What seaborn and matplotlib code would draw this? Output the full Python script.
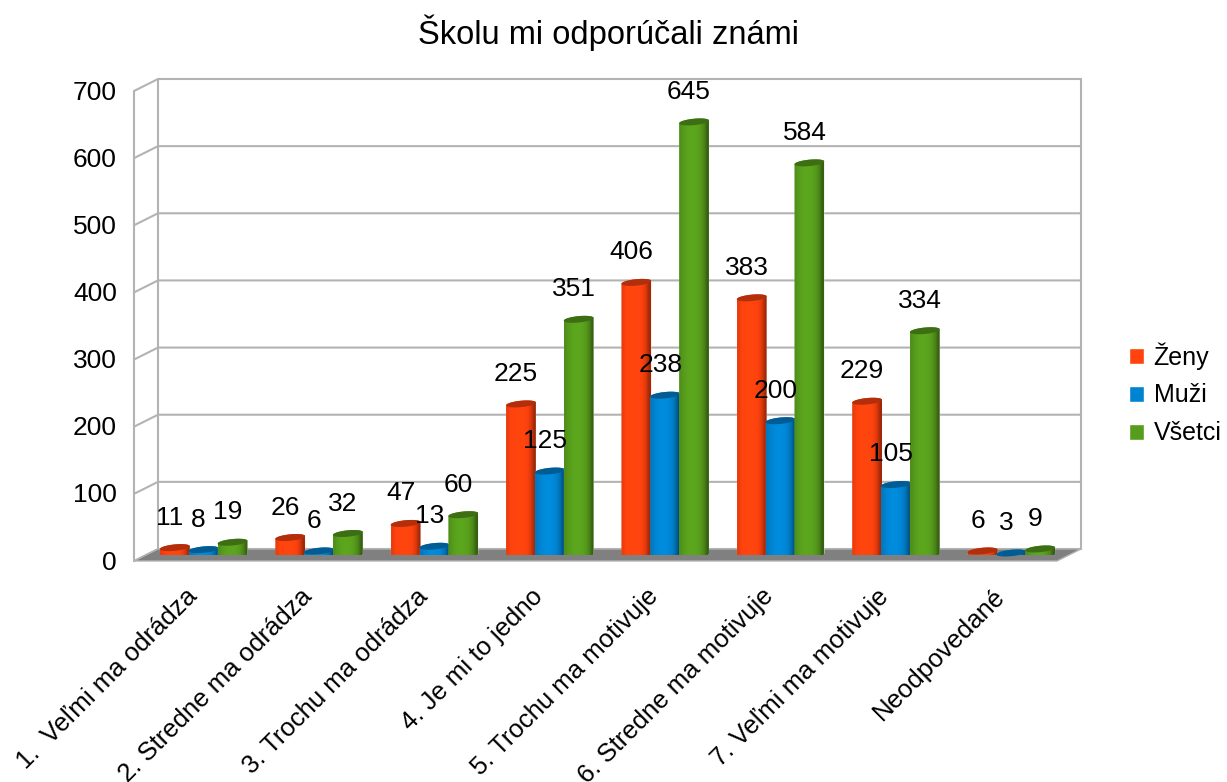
import numpy as np
import pandas as pd
import seaborn as sns
import matplotlib.pyplot as plt
from matplotlib.patches import Polygon
from matplotlib.transforms import ScaledTranslation

kategorie = ["1.  Veľmi ma odrádza", "2. Stredne ma odrádza", "3. Trochu ma odrádza", "4. Je mi to jedno",
             "5. Trochu ma motivuje", "6. Stredne ma motivuje", "7. Veľmi ma motivuje", "Neodpovedané"]
zeny = [11, 26, 47, 225, 406, 383, 229, 6]
muzi = [8, 6, 13, 125, 238, 200, 105, 3]
vsetci = [19, 32, 60, 351, 645, 584, 334, 9]
y_ticks = [0, 100, 200, 300, 400, 500, 600, 700]
farby = {"Ženy": "#ff420e", "Muži": "#0084d1", "Všetci": "#579d1c"}

W, H = 1227, 782
sns.set_theme(style="white")
plt.rcParams["font.family"] = ["Liberation Sans", "DejaVu Sans"]

df = pd.DataFrame({"kategoria": kategorie, "Ženy": zeny, "Muži": muzi, "Všetci": vsetci})
df = df.melt(id_vars="kategoria", var_name="skupina", value_name="pocet")

fig = plt.figure(figsize=(W / 100, H / 100), dpi=100)
ax = fig.add_axes([146 / W, 1 - 555 / H, 923 / W, 470 / H])
sns.barplot(data=df, x="kategoria", y="pocet", hue="skupina", palette=farby, width=0.75, gap=0,
            saturation=1, ax=ax, zorder=3)
ax.set_xlim(-0.5, 7.5)
ax.set_ylim(0, 700)
sns.despine(ax=ax, left=True, bottom=True)
ax.set_xlabel("")
ax.set_ylabel("")

# pixel sizes in data units
px_x = 8 / 923
px_y = 700 / 470
dx = 12 * px_x
dy = 6 * px_y

# floor and walls of the fake 3d box
x0, x1 = -0.5, 7.5
seda = "#b3b3b3"
ax.add_patch(Polygon([(x0 - dx, -dy), (x1 - dx, -dy), (x1 + dx, dy), (x0 + dx, dy)], closed=True,
                     fc="#808080", ec=seda, lw=1, clip_on=False, zorder=1))
for t in y_ticks:
    ax.plot([x0 - dx, x0 + dx, x1 + dx], [t - dy, t + dy, t + dy], color=seda, lw=1.5, clip_on=False, zorder=0.5)
ax.plot([x0 - dx, x0 - dx], [-dy, 700 - dy], color=seda, lw=1.5, clip_on=False, zorder=0.5)
ax.plot([x0 + dx, x0 + dx], [dy, 700 + dy], color=seda, lw=1.5, clip_on=False, zorder=0.5)
ax.plot([x1 + dx, x1 + dx], [dy, 700 + dy], color=seda, lw=1.5, clip_on=False, zorder=0.5)

# cylinders on top of the seaborn bars
tiene = np.array([0.92, 1.0, 1.04, 1.06, 1.06, 1.04, 0.98, 0.86, 0.62])
t = np.linspace(0, 2 * np.pi, 61)
for i, cont in enumerate(ax.containers):
    farba = np.array(plt.matplotlib.colors.to_rgb(list(farby.values())[i]))
    grad = np.clip(farba[None, None, :] * tiene[None, :, None], 0, 1)
    for bar in cont:
        xc = bar.get_x() + bar.get_width() / 2
        h = bar.get_height()
        rx = bar.get_width() / 2 + 0.5 * px_x
        ry = 3.2 * px_y
        sklon = 1.4 * px_y / rx

        def elipsa(y, tt):
            xs = xc + rx * np.cos(tt)
            return np.column_stack([xs, y + ry * np.sin(tt) + (xs - xc) * sklon])

        spodok = elipsa(0, np.linspace(np.pi, 2 * np.pi, 31))
        vrch = elipsa(h, np.linspace(0, np.pi, 31))
        telo = Polygon(np.vstack([spodok, vrch]), closed=True, transform=ax.transData)
        bar.set_clip_path(telo)
        z = 3 + i * 0.1
        bar.set_zorder(z)
        im = ax.imshow(grad, extent=(xc - rx, xc + rx, -3 * ry, h + 3 * ry), aspect="auto",
                       interpolation="bilinear", zorder=z + 0.01)
        im.set_clip_path(telo)
        ax.add_patch(Polygon(elipsa(h, t), closed=True, fc=farba * 0.7, ec="none", clip_on=False, zorder=z + 0.02))
        ax.annotate(f"{h:.0f}", (xc, h), xytext=(-5, 30), textcoords="offset pixels", ha="center",
                    va="center", fontsize=19, color="black", zorder=10, annotation_clip=False)

ax.set_xlim(-0.5, 7.5)
ax.set_ylim(0, 700)

ax.set_yticks(y_ticks)
ax.tick_params(axis="y", length=0, pad=21, labelsize=19, labelcolor="black")
posun = ScaledTranslation(0, -5 / 100, fig.dpi_scale_trans)
for lab in ax.get_yticklabels():
    lab.set_transform(lab.get_transform() + posun)

ax.tick_params(axis="x", length=0, pad=21, labelsize=18.5, labelcolor="black")
ax.set_xticks(range(len(kategorie)))
ax.set_xticklabels(kategorie, rotation=45, ha="right", rotation_mode="anchor")
posun_x = ScaledTranslation(-19 / 100, 0, fig.dpi_scale_trans)
for lab in ax.get_xticklabels():
    lab.set_transform(lab.get_transform() + posun_x)

fig.text(608 / W, 1 - 33 / H, "Školu mi odporúčali známi", ha="center", va="center", fontsize=23.5, color="black")

ax.legend(title=None, frameon=False, loc="upper left", bbox_to_anchor=(1129 / W, 1 - 342 / H),
          bbox_transform=fig.transFigure, fontsize=18, handlelength=0.6, handleheight=0.6,
          handletextpad=0.38, labelspacing=0.56, borderpad=0, borderaxespad=0, labelcolor="black")

fig.savefig("out.png", dpi=100)
